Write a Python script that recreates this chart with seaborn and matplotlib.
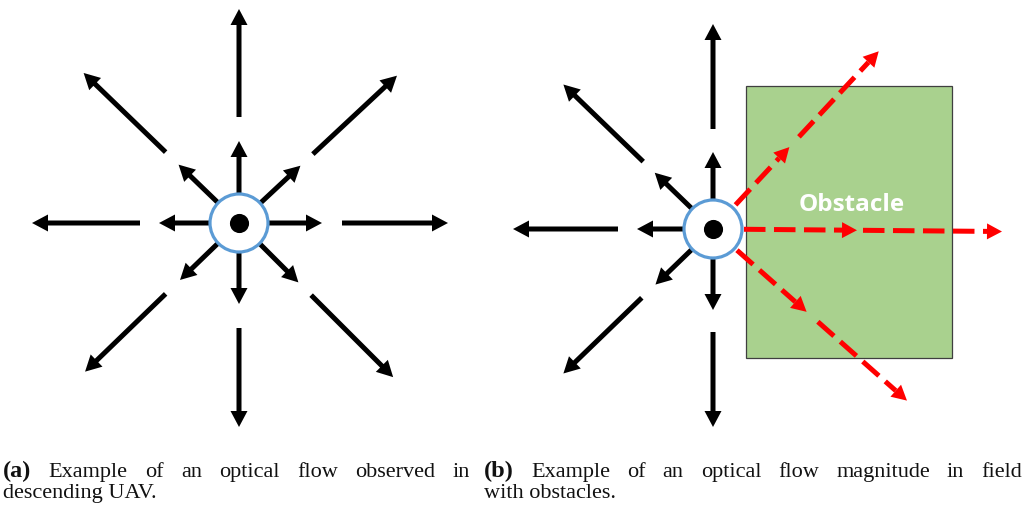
import numpy as np
import matplotlib
matplotlib.use("Agg")
import matplotlib.pyplot as plt
import seaborn as sns
import pandas as pd
from matplotlib.patches import Circle, Rectangle

sns.set_theme(style="white")
plt.rcParams["font.family"] = ["DejaVu Sans"]

W, H = 1026, 510

# ---- panel (a): flow field of a descending UAV -------------------------
center_a = (239, 224)
angles_a = [90, 43, 0, -45, -90, -136, 180, 136]          # degrees
inner_tip_a = [82, 84, 83, 84, 81, 82, 80, 84]            # px from centre
outer_tail_a = [106, 101, 103, 102, 105, 102, 99, 102]
outer_tip_a = [214, 216, 209, 218, 204, 214, 207, 216]

# ---- panel (b): flow field with an obstacle ------------------------------
center_b = (713, 230)
angles_b = [90, 136, 180, -136, -90]
inner_tip_b = [77, 81, 76, 80, 81]
outer_tail_b = [100, 97, 95, 99, 103]
outer_tip_b = [205, 208, 200, 208, 198]

# red (amplified) flow through the obstacle
red_angles = [47, -0.5, -41.5]
red_start = [33, 31, 32]
red_inner_tip = [112, 144, 125]
red_outer_tail = [126, 150, 140]
red_outer_tip = [243, 289, 259]

obstacle_box = (746, 87, 952, 359)     # x0, y0, x1, y1
obstacle_label = "Obstacle"

caption_a = ["(a) Example of an optical flow observed in", "descending UAV."]
caption_b = ["(b) Example of an optical flow magnitude in field", "with obstacles."]

RING_R = 29
BLACK = "#000000"
RED = "#FF0000"
BLUE = "#5B9BD5"
GREEN = "#A9D18E"

fig = plt.figure(figsize=(W / 100, H / 100), dpi=100)
ax = fig.add_axes([0, 0, 1, 1])
ax.set_xlim(0, W)
ax.set_ylim(H, 0)
ax.set_aspect("equal")
ax.axis("off")


def polar(c, ang, r):
    a = np.deg2rad(ang)
    return c[0] + r * np.cos(a), c[1] - r * np.sin(a)


def solid_arrow(p0, p1, color=BLACK, z=3):
    dx, dy = p1[0] - p0[0], p1[1] - p0[1]
    ax.arrow(p0[0], p0[1], dx, dy, width=5, head_width=17, head_length=16,
             length_includes_head=True, color=color, lw=0, zorder=z)


def dashed_arrow(p0, p1, color=RED, z=4):
    dx, dy = p1[0] - p0[0], p1[1] - p0[1]
    L = np.hypot(dx, dy)
    ux, uy = dx / L, dy / L
    hl = 15
    base = (p1[0] - ux * hl, p1[1] - uy * hl)
    ax.plot([p0[0], base[0]], [p0[1], base[1]], color=color, lw=3.6,
            linestyle=(0, (4.3, 1.7)), solid_capstyle="butt",
            dash_capstyle="butt", zorder=z)
    ax.arrow(base[0], base[1], ux * hl, uy * hl, width=0.01, head_width=16,
             head_length=hl, length_includes_head=True, color=color, lw=0,
             zorder=z)


def flow(center, angles, inner, otail, otip):
    for ang, it, ot, op in zip(angles, inner, otail, otip):
        solid_arrow(polar(center, ang, RING_R), polar(center, ang, it))
        solid_arrow(polar(center, ang, ot), polar(center, ang, op))


# obstacle
x0, y0, x1, y1 = obstacle_box
ax.add_patch(Rectangle((x0, y0), x1 - x0, y1 - y0, facecolor=GREEN,
                       edgecolor="#3F3F3F", lw=0.9, zorder=1))
ax.text(852, 211, obstacle_label, color="white",
        fontsize=17.5, fontweight="bold", family="Open Sans",
        ha="center", va="baseline", zorder=2)

flow(center_a, angles_a, inner_tip_a, outer_tail_a, outer_tip_a)
flow(center_b, angles_b, inner_tip_b, outer_tail_b, outer_tip_b)

for ang, s, it, ot, op in zip(red_angles, red_start, red_inner_tip,
                              red_outer_tail, red_outer_tip):
    dashed_arrow(polar(center_b, ang, s), polar(center_b, ang, it))
    dashed_arrow(polar(center_b, ang, ot), polar(center_b, ang, op))

# camera rings and centre dots
for c in (center_a, center_b):
    ax.add_patch(Circle(c, RING_R, facecolor="white", edgecolor=BLUE,
                        lw=2.3, zorder=5))
dots = pd.DataFrame({"x": [center_a[0], center_b[0]],
                     "y": [center_a[1], center_b[1]]})
sns.scatterplot(data=dots, x="x", y="y", ax=ax, color=BLACK, s=190,
                linewidth=0, zorder=6, legend=False)
ax.set_xlim(0, W)
ax.set_ylim(H, 0)
ax.axis("off")

# captions (first line justified)
renderer = fig.canvas.get_renderer()
CAP_FONT = "Liberation Serif"
CAP_SIZE = 16
TAG_SIZE = 17.5


def justified(words, xl, xr, y):
    texts = []
    for i, w in enumerate(words):
        t = ax.text(0, y, w, fontsize=TAG_SIZE if i == 0 else CAP_SIZE,
                    family=CAP_FONT,
                    fontweight="bold" if i == 0 else "normal",
                    ha="left", va="baseline", color="#111111")
        texts.append(t)
    widths = [t.get_window_extent(renderer).width for t in texts]
    gap = (xr - xl - sum(widths)) / (len(words) - 1)
    x = xl
    for t, w in zip(texts, widths):
        t.set_x(x)
        x += w + gap


def caption(lines, xl, xr):
    justified(lines[0].split(" "), xl, xr, 477)
    ax.text(xl, 498, lines[1], fontsize=CAP_SIZE, family=CAP_FONT,
            ha="left", va="baseline", color="#111111")


caption(caption_a, 3, 470)
caption(caption_b, 484, 1022)

fig.savefig("out.png", dpi=100)
